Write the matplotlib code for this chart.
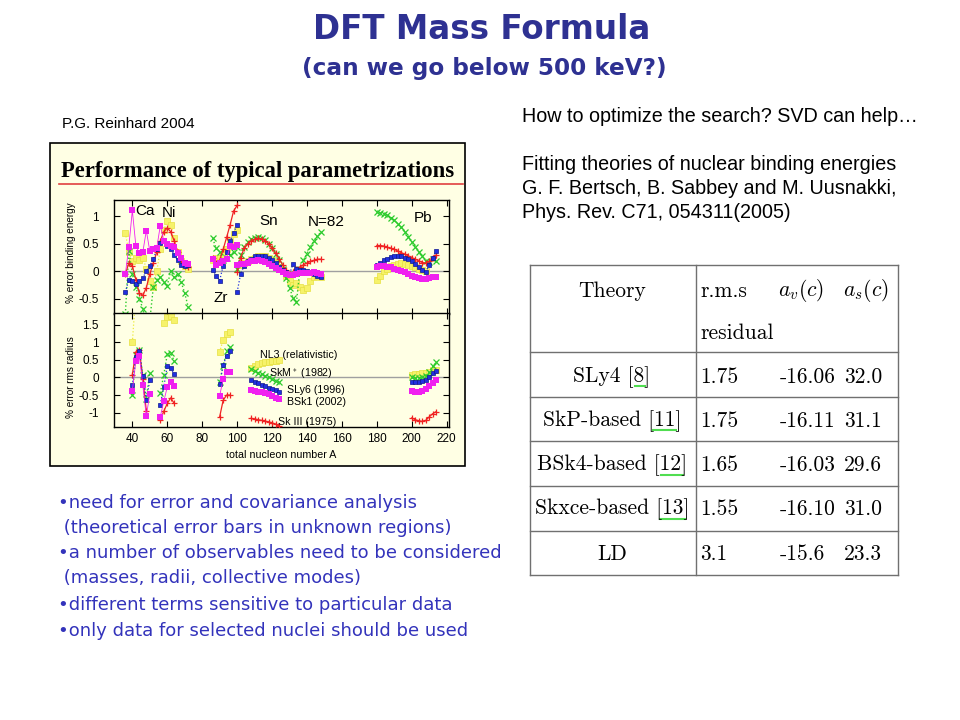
import numpy as np
import matplotlib
matplotlib.use("Agg")
import matplotlib.pyplot as plt
from matplotlib.patches import Rectangle
from matplotlib.lines import Line2D
from matplotlib.ticker import FormatStrFormatter

plt.rcParams['font.family'] = ['Liberation Sans', 'DejaVu Sans']
plt.rcParams['mathtext.fontset'] = 'cm'
plt.rcParams['axes.unicode_minus'] = False

nan = np.nan

### top panel: % error binding energy

A_cani = [36, 38, 40, 42, 44, 46, 48, 50, 52, 54, 56, 58, 60, 62, 64, 66, 68, 70, 72]
nl3_cani = [0.70, 0.35, 0.18, 0.25, 0.20, 0.25, 0.05, -0.17, -0.29, 0.00, 0.40, 0.75, 0.92, 0.85, 0.60, 0.35, 0.18, 0.10, 0.05]
skm_cani = [-0.78, 0.37, -0.05, -0.29, -0.50, -0.68, -0.95, -0.90, -0.29, -0.15, -0.11, -0.20, -0.26, 0.01, -0.11, -0.05, -0.20, -0.40, -0.65]
sly6_cani = [-0.38, -0.15, -0.18, -0.23, -0.18, -0.12, 0.00, 0.10, 0.22, 0.40, 0.52, 0.57, 0.47, 0.40, 0.30, 0.20, 0.12, 0.10, 0.12]
bsk1_cani = [-0.05, 0.45, 1.11, 0.47, 0.33, 0.35, 0.74, 0.37, 0.40, 0.43, 0.83, 0.56, 0.49, 0.46, 0.45, 0.34, 0.25, 0.16, 0.13]
sk3_cani = [-0.05, 0.15, 0.10, -0.15, -0.40, -0.44, -0.30, -0.05, 0.15, 0.35, 0.55, 0.72, 0.79, 0.72, 0.55, 0.35, 0.18, 0.10, 0.08]

A_zr = [86, 88, 90, 92, 94, 96, 98, 100]
nl3_zr = [0.20, 0.25, 0.25, 0.30, 0.40, 0.55, 0.68, 0.75]
skm_zr = [0.60, 0.42, 0.35, 0.20, 0.25, 0.30, 0.35, 0.45]
sly6_zr = [0.03, -0.08, -0.17, 0.10, 0.35, 0.55, 0.70, 0.85]
bsk1_zr = [0.22, 0.12, 0.15, 0.18, 0.22, 0.46, 0.44, 0.48]
sk3_zr = [0.25, 0.15, 0.20, 0.40, 0.62, 0.85, 1.10, 1.20]

A_sn = [100, 102, 104, 106, 108, 110, 112, 114, 116, 118, 120, 122, 124,
        126, 128, 130, 132, 134, 136, 138, 140, 142, 144, 146, 148]
nl3_sn = [nan, 0.12, 0.15, 0.18, 0.22, 0.25, 0.27, 0.28, 0.27, 0.25, 0.20, 0.15, 0.08,
          0.00, -0.08, -0.18, -0.25, -0.22, -0.28, -0.35, -0.30, -0.18, -0.10, -0.08, -0.10]
skm_sn = [0.05, 0.30, 0.45, 0.53, 0.58, 0.61, 0.62, 0.61, 0.57, 0.50, 0.42, 0.32, 0.20,
          0.05, -0.12, -0.30, -0.48, -0.56, 0.05, 0.20, 0.32, 0.45, 0.55, 0.64, 0.72]
sly6_sn = [-0.38, -0.05, 0.10, 0.18, 0.23, 0.27, 0.28, 0.28, 0.27, 0.24, 0.20, 0.15, 0.08,
           0.02, -0.02, -0.05, 0.13, 0.05, 0.03, 0.02, 0.00, -0.02, -0.05, -0.08, -0.10]
bsk1_sn = [0.12, 0.13, 0.14, 0.16, 0.18, 0.19, 0.20, 0.19, 0.17, 0.14, 0.10, 0.06, 0.02,
           -0.02, -0.05, -0.06, -0.06, -0.05, -0.04, -0.04, -0.03, -0.03, -0.02, -0.03, -0.05]
sk3_sn = [-0.02, 0.25, 0.42, 0.50, 0.55, 0.58, 0.60, 0.59, 0.56, 0.50, 0.42, 0.33, 0.23,
          0.12, 0.02, -0.05, -0.02, 0.05, 0.08, 0.12, 0.15, 0.18, 0.20, 0.22, 0.22]

A_pb = [180, 182, 184, 186, 188, 190, 192, 194, 196, 198, 200, 202, 204, 206, 208, 210, 212, 214]
nl3_pb = [-0.15, -0.08, 0.00, 0.05, 0.09, 0.12, 0.14, 0.15, 0.14, 0.12, 0.10, 0.07, 0.04, 0.02, 0.00, nan, nan, nan]
skm_pb = [1.08, 1.07, 1.05, 1.02, 0.98, 0.93, 0.87, 0.80, 0.72, 0.63, 0.54, 0.45, 0.36, 0.27, 0.19, 0.17, 0.22, 0.18]
sly6_pb = [0.12, 0.16, 0.20, 0.23, 0.26, 0.28, 0.28, 0.27, 0.25, 0.22, 0.18, 0.13, 0.08, 0.02, -0.02, 0.12, 0.25, 0.37]
bsk1_pb = [0.08, 0.09, 0.09, 0.08, 0.07, 0.05, 0.03, 0.01, -0.02, -0.05, -0.08, -0.11, -0.13, -0.14, -0.14, -0.12, -0.10, -0.10]
sk3_pb = [0.47, 0.47, 0.46, 0.44, 0.42, 0.40, 0.37, 0.34, 0.31, 0.28, 0.25, 0.22, 0.19, 0.16, 0.15, 0.18, 0.24, 0.30]

### bottom panel: % error rms radius

A_ca_r = [40, 42, 44, 46, 48, 50]
nl3_ca_r = [1.00, 2.40, nan, nan, nan, nan]
skm_ca_r = [-0.49, 0.64, 0.78, 0.07, -0.60, 0.14]
sly6_ca_r = [-0.22, 0.59, 0.75, 0.05, -0.65, -0.08]
bsk1_ca_r = [-0.38, 0.47, 0.61, -0.22, -1.10, -0.46]
sk3_ca_r = [0.08, 0.73, 0.78, -0.05, -0.95, nan]

A_ni_r = [56, 58, 60, 62, 64]
nl3_ni_r = [nan, 1.54, 1.73, 1.76, 1.64]
skm_ni_r = [-0.44, 0.07, 0.66, 0.69, 0.47]
sly6_ni_r = [-0.77, -0.27, 0.33, 0.26, 0.10]
bsk1_ni_r = [-1.12, -0.68, -0.27, -0.14, -0.24]
sk3_ni_r = [-1.22, -0.96, -0.74, -0.58, -0.74]

A_zr_r = [90, 92, 94, 96]
nl3_zr_r = [0.72, 1.08, 1.25, 1.28]
skm_zr_r = [-0.12, 0.33, 0.74, 0.87]
sly6_zr_r = [-0.18, 0.36, 0.62, 0.74]
bsk1_zr_r = [-0.52, -0.05, 0.17, 0.17]
sk3_zr_r = [-1.12, -0.65, -0.50, -0.50]

A_sn_r = [108, 110, 112, 114, 116, 118, 120, 122, 124]
nl3_sn_r = [0.28, 0.33, 0.37, 0.40, 0.43, 0.45, 0.47, 0.48, 0.49]
skm_sn_r = [0.24, 0.19, 0.14, 0.09, 0.05, 0.01, -0.04, -0.09, -0.14]
sly6_sn_r = [-0.07, -0.12, -0.17, -0.21, -0.25, -0.29, -0.32, -0.36, -0.40]
bsk1_sn_r = [-0.37, -0.38, -0.40, -0.42, -0.45, -0.48, -0.52, -0.57, -0.62]
sk3_sn_r = [-1.16, -1.18, -1.20, -1.22, -1.24, -1.26, -1.29, -1.33, -1.38]

A_pb_r = [200, 202, 204, 206, 208, 210, 212, 214]
nl3_pb_r = [0.08, 0.09, 0.10, 0.12, 0.14, 0.17, 0.20, 0.22]
skm_pb_r = [0.00, -0.02, -0.02, 0.00, 0.05, 0.15, 0.32, 0.43]
sly6_pb_r = [-0.12, -0.13, -0.12, -0.10, -0.06, 0.02, 0.12, 0.18]
bsk1_pb_r = [-0.38, -0.40, -0.40, -0.38, -0.33, -0.25, -0.15, -0.08]
sk3_pb_r = [-1.15, -1.20, -1.23, -1.25, -1.22, -1.12, -1.03, -0.97]

### table

theories = ['SLy4 [8]', 'SkP-based [11]', 'BSk4-based [12]', 'Skxce-based [13]', 'LD']
rms_residual = ['1.75', '1.75', '1.65', '1.55', '3.1']
a_v = ['-16.06', '-16.11', '-16.03', '-16.10', '-15.6']
a_s = ['32.0', '31.1', '29.6', '31.0', '23.3']

bullets = ['\u2022need for error and covariance analysis',
           ' (theoretical error bars in unknown regions)',
           '\u2022a number of observables need to be considered',
           ' (masses, radii, collective modes)',
           '\u2022different terms sensitive to particular data',
           '\u2022only data for selected nuclei should be used']

ref_lines = ['Fitting theories of nuclear binding energies',
             'G. F. Bertsch, B. Sabbey and M. Uusnakki,',
             'Phys. Rev. C71, 054311(2005)']

styles = {
    'nl3': dict(color='#EDEB3A', marker='s', ms=5, ls=':', lw=0.9, mfc='#F6F26A', mec='#E6E040', mew=0.5),
    'skm': dict(color='#2CCB2C', marker='x', ms=4, ls=':', lw=1.0, mew=0.9),
    'sly6': dict(color='#2030E0', marker='s', ms=3.4, ls=':', lw=0.9, mec='#101890', mew=0.5),
    'bsk1': dict(color='#F020F0', marker='s', ms=5, ls='-', lw=0.6, mew=0),
    'sk3': dict(color='#F02222', marker='+', ms=5, ls='-', lw=0.9, mew=0.9),
}

W, H = 960.0, 720.0

def box(x0, y0, x1, y1):
    return [x0 / W, 1 - y1 / H, (x1 - x0) / W, (y1 - y0) / H]

def ftext(x, y, s, **kw):
    fig.text(x / W, 1 - y / H, s, **kw)

def fline(x0, y0, x1, y1, **kw):
    fig.add_artist(Line2D([x0 / W, x1 / W], [1 - y0 / H, 1 - y1 / H], transform=fig.transFigure, **kw))

fig = plt.figure(figsize=(9.6, 7.2), dpi=100)
fig.patch.set_facecolor('white')

# titles
ftext(482, 39, 'DFT Mass Formula', ha='center', va='baseline', fontsize=23.5,
      fontweight='bold', color='#2E3192', family='DejaVu Sans')
ftext(484, 75, '(can we go below 500 keV?)', ha='center', va='baseline', fontsize=16.7,
      fontweight='bold', color='#2E3192', family='DejaVu Sans')

ftext(62, 124, 'P.G. Reinhard 2004', ha='left', va='center', fontsize=11)

# picture box (behind the axes)
bg = '#FFFFE4'
fig.add_artist(Rectangle((49.5 / W, 1 - 466 / H), (465 - 49.5) / W, (466 - 143) / H,
                         transform=fig.transFigure, fc=bg, ec='black', lw=1.2, zorder=-1))
ftext(258, 172, 'Performance of typical parametrizations', ha='center', va='center',
      fontsize=16.3, fontweight='bold', family='Liberation Serif')
fline(59, 183.5, 463, 183.5, color='#E04040', lw=1.2)

ax1 = fig.add_axes(box(114, 200, 449.3, 313.5))
ax2 = fig.add_axes(box(114, 313.5, 449.3, 426.7))

top_segments = [
    (A_cani, nl3_cani, skm_cani, sly6_cani, bsk1_cani, sk3_cani),
    (A_zr, nl3_zr, skm_zr, sly6_zr, bsk1_zr, sk3_zr),
    (A_sn, nl3_sn, skm_sn, sly6_sn, bsk1_sn, sk3_sn),
    (A_pb, nl3_pb, skm_pb, sly6_pb, bsk1_pb, sk3_pb),
]
bottom_segments = [
    (A_ca_r, nl3_ca_r, skm_ca_r, sly6_ca_r, bsk1_ca_r, sk3_ca_r),
    (A_ni_r, nl3_ni_r, skm_ni_r, sly6_ni_r, bsk1_ni_r, sk3_ni_r),
    (A_zr_r, nl3_zr_r, skm_zr_r, sly6_zr_r, bsk1_zr_r, sk3_zr_r),
    (A_sn_r, nl3_sn_r, skm_sn_r, sly6_sn_r, bsk1_sn_r, sk3_sn_r),
    (A_pb_r, nl3_pb_r, skm_pb_r, sly6_pb_r, bsk1_pb_r, sk3_pb_r),
]

for ax, segs in [(ax1, top_segments), (ax2, bottom_segments)]:
    ax.set_facecolor(bg)
    ax.axhline(0, color='#A0A0A0', lw=1.0, zorder=1)
    for A, nl3, skm, sly6, bsk1, sk3 in segs:
        ax.plot(A, nl3, zorder=2, **styles['nl3'])
        ax.plot(A, skm, zorder=3, **styles['skm'])
        ax.plot(A, sk3, zorder=4, **styles['sk3'])
        ax.plot(A, sly6, zorder=5, **styles['sly6'])
        ax.plot(A, bsk1, zorder=6, **styles['bsk1'])
    ax.set_xlim(29.5, 221.5)
    ax.set_xticks(range(40, 221, 20))
    ax.tick_params(direction='in', top=True, right=True, length=4, width=0.8,
                   labelsize=8.5, pad=11)
    ax.tick_params(axis='x', pad=4.5)
    ax.yaxis.set_major_formatter(FormatStrFormatter('%g'))
    for sp in ax.spines.values():
        sp.set_linewidth(1.0)

ax1.set_ylim(-0.77, 1.3)
ax1.set_yticks([-0.5, 0, 0.5, 1])
ax1.tick_params(labelbottom=False)
ax2.set_ylim(-1.4, 1.82)
ax2.set_yticks([-1, -0.5, 0, 0.5, 1, 1.5])

for s, x, y in [('Ca', 47.5, 1.10), ('Ni', 61, 1.07), ('Zr', 90.5, -0.49),
                ('Sn', 118, 0.92), ('N=82', 151, 0.89), ('Pb', 206.5, 0.98)]:
    ax1.text(x, y, s, ha='center', va='center', fontsize=11, zorder=8)

for s, x, y in [('NL3 (relativistic)', 113, 0.65), ('SkM$^*$ (1982)', 118.5, 0.10),
                ('SLy6 (1996)', 128.4, -0.37), ('BSk1 (2002)', 128.4, -0.70),
                ('Sk III (1975)', 123.3, -1.28)]:
    ax2.text(x, y, s, ha='left', va='center', fontsize=7.7, zorder=8)

ftext(70.5, 253, '% error binding energy', rotation=90, ha='center', va='center', fontsize=7.2)
ftext(70.5, 377, '% error rms radius', rotation=90, ha='center', va='center', fontsize=7.2)
ftext(281, 455, 'total nucleon number A', ha='center', va='center', fontsize=7.7)

# right side text
ftext(522, 116, 'How to optimize the search? SVD can help\u2026', ha='left', va='center', fontsize=14.2)
for i, s in enumerate(ref_lines):
    ftext(522, 164 + 24 * i, s, ha='left', va='center', fontsize=14.2)

# table
tcol = '#707070'
for y in [265, 352, 397, 441, 485.5, 530.5, 575]:
    fline(530, y, 898, y, color=tcol, lw=1.0)
for x in [530, 695.5, 898]:
    fline(x, 265, x, 575, color=tcol, lw=1.0)

tfs = 15.5
ftext(612, 291, 'Theory', ha='center', va='center', fontsize=tfs, family='cmr10')
ftext(700, 291, 'r.m.s', ha='left', va='center', fontsize=tfs, family='cmr10')
ftext(700, 333, 'residual', ha='left', va='center', fontsize=tfs, family='cmr10')
ftext(778, 291, '$a_v(c)$', ha='left', va='center', fontsize=tfs)
ftext(843, 291, '$a_s(c)$', ha='left', va='center', fontsize=tfs)
row_y = [377, 421, 465, 509, 554]
for name, r, v, s, y in zip(theories, rms_residual, a_v, a_s, row_y):
    ftext(612, y, name, ha='center', va='center', fontsize=tfs, family='cmr10')
    ftext(700, y, r, ha='left', va='center', fontsize=tfs, family='cmr10')
    ftext(780, y, v, ha='left', va='center', fontsize=tfs, family='cmr10')
    ftext(844, y, s, ha='left', va='center', fontsize=tfs, family='cmr10')

# link underlines under the references
for x0, x1, y in [(635, 645, 386), (653, 676, 430), (661, 683, 474.5), (660, 685, 518.5)]:
    fline(x0, y, x1, y, color='#50DD50', lw=1.5)

# bullets
for i, s in enumerate(bullets):
    y = [503, 528, 553, 578, 605, 631][i]
    ftext(58, y, s, ha='left', va='center', fontsize=13, color='#3333BB', family='DejaVu Sans')

fig.savefig('out.png', dpi=100)
